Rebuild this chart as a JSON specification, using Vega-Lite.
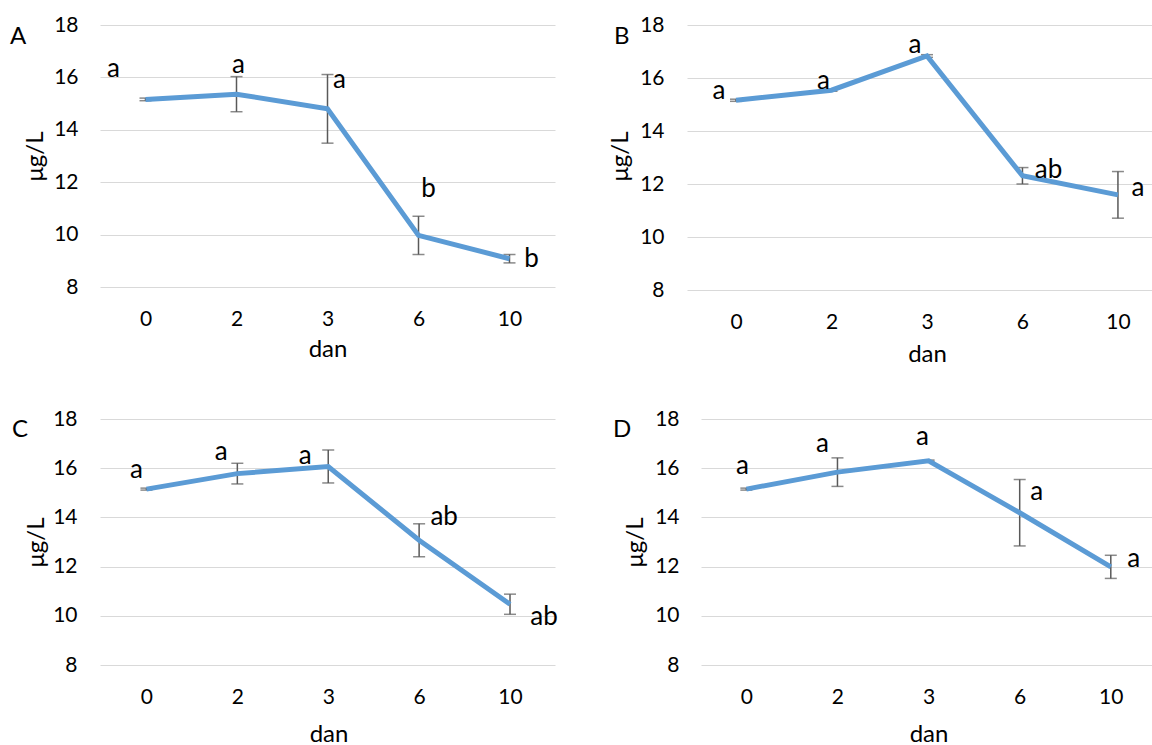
{
  "$schema": "https://vega.github.io/schema/vega-lite/v6.json",
  "background": "white",
  "padding": {"left": 10, "top": 14, "right": 0, "bottom": 0},
  "config": {
    "view": {"stroke": null},
    "font": "Lato",
    "axis": {"labelFont": "Lato", "titleFont": "Lato", "labelColor": "#000000", "titleColor": "#000000", "titleFontWeight": "normal", "domain": false, "ticks": false, "tickSize": 0}
  },
  "datasets": {
    "d": [
      {"panel": "A", "dan": "0", "mean": 15.16, "sd": 0.05, "sig": "a"},
      {"panel": "A", "dan": "2", "mean": 15.36, "sd": 0.67, "sig": "a"},
      {"panel": "A", "dan": "3", "mean": 14.8, "sd": 1.31, "sig": "a"},
      {"panel": "A", "dan": "6", "mean": 9.97, "sd": 0.73, "sig": "b"},
      {"panel": "A", "dan": "10", "mean": 9.08, "sd": 0.16, "sig": "b"},
      {"panel": "B", "dan": "0", "mean": 15.16, "sd": 0.04, "sig": "a"},
      {"panel": "B", "dan": "2", "mean": 15.54, "sd": 0.04, "sig": "a"},
      {"panel": "B", "dan": "3", "mean": 16.83, "sd": 0.05, "sig": "a"},
      {"panel": "B", "dan": "6", "mean": 12.31, "sd": 0.31, "sig": "ab"},
      {"panel": "B", "dan": "10", "mean": 11.59, "sd": 0.88, "sig": "a"},
      {"panel": "C", "dan": "0", "mean": 15.15, "sd": 0.04, "sig": "a"},
      {"panel": "C", "dan": "2", "mean": 15.78, "sd": 0.42, "sig": "a"},
      {"panel": "C", "dan": "3", "mean": 16.07, "sd": 0.67, "sig": "a"},
      {"panel": "C", "dan": "6", "mean": 13.07, "sd": 0.67, "sig": "ab"},
      {"panel": "C", "dan": "10", "mean": 10.47, "sd": 0.41, "sig": "ab"},
      {"panel": "D", "dan": "0", "mean": 15.15, "sd": 0.04, "sig": "a"},
      {"panel": "D", "dan": "2", "mean": 15.84, "sd": 0.58, "sig": "a"},
      {"panel": "D", "dan": "3", "mean": 16.3, "sd": 0.03, "sig": "a"},
      {"panel": "D", "dan": "6", "mean": 14.19, "sd": 1.35, "sig": "a"},
      {"panel": "D", "dan": "10", "mean": 11.99, "sd": 0.47, "sig": "a"}
    ]
  },
  "bounds": "flush",
  "spacing": 394,
  "vconcat": [
    {
      "bounds": "flush",
      "spacing": 132,
      "hconcat": [
        {
          "width": 455, "height": 262,
          "data": {"name": "d"},
          "transform": [{"filter": "datum.panel == 'A'"}],
          "title": {"text": "A", "anchor": "start", "frame": "group", "align": "left", "baseline": "middle", "offset": 0, "dx": -90, "dy": 47, "fontSize": 24, "font": "Lato", "fontWeight": "normal", "color": "#000000"},
          "encoding": {
            "x": {"field": "dan", "type": "ordinal", "sort": ["0", "2", "3", "6", "10"], "scale": {"type": "point", "padding": 0.5, "align": 0.5},
                  "axis": {"title": "dan", "labelAngle": 0, "labelFontSize": 21, "labelBaseline": "middle", "labelPadding": 32, "grid": false, "titleFontSize": 24, "titleX": 227.5, "titleY": 62, "titleBaseline": "middle"}},
            "y": {"field": "mean", "type": "quantitative", "scale": {"domain": [8, 18], "nice": false, "zero": false},
                  "axis": {"title": "μg/L", "values": [8, 10, 12, 14, 16, 18], "labelFontSize": 21, "labelPadding": 22, "grid": true, "gridColor": "#d9d9d9", "gridWidth": 1.2, "titleFontSize": 24, "titleX": -65, "titleY": 131, "titleBaseline": "middle"}}
          },
          "layer": [
            {"mark": {"type": "errorbar", "color": "#595959", "thickness": 1.5, "ticks": {"size": 12, "thickness": 1.5, "color": "#595959"}}, "encoding": {"yError": {"field": "sd"}}},
            {"mark": {"type": "line", "color": "#5B9BD5", "strokeWidth": 5, "strokeCap": "butt", "strokeJoin": "miter"}, "encoding": {}},
            {"mark": {"type": "text", "font": "Lato", "fontSize": 26, "color": "#000000", "align": "center", "baseline": "middle",
                      "dx": {"expr": "datum.dan=='0'?-32:datum.dan=='2'?2:datum.dan=='3'?12:datum.dan=='6'?10:22"},
                      "dy": {"expr": "datum.dan=='0'?-30:datum.dan=='2'?-29:datum.dan=='3'?-29:datum.dan=='6'?-46:0"}},
             "encoding": {"text": {"field": "sig"}}}
          ]
        },
        {
          "width": 465, "height": 265,
          "data": {"name": "d"},
          "transform": [{"filter": "datum.panel == 'B'"}],
          "title": {"text": "B", "anchor": "start", "frame": "group", "align": "left", "baseline": "middle", "offset": 0, "dx": -73, "dy": 47, "fontSize": 24, "font": "Lato", "fontWeight": "normal", "color": "#000000"},
          "encoding": {
            "x": {"field": "dan", "type": "ordinal", "sort": ["0", "2", "3", "6", "10"], "scale": {"type": "point", "padding": 0.435, "align": 0.59},
                  "axis": {"title": "dan", "labelAngle": 0, "labelFontSize": 21, "labelBaseline": "middle", "labelPadding": 32, "grid": false, "titleFontSize": 24, "titleX": 240, "titleY": 64, "titleBaseline": "middle"}},
            "y": {"field": "mean", "type": "quantitative", "scale": {"domain": [8, 18], "nice": false, "zero": false},
                  "axis": {"title": "μg/L", "values": [8, 10, 12, 14, 16, 18], "labelFontSize": 21, "labelPadding": 23, "grid": true, "gridColor": "#d9d9d9", "gridWidth": 1.2, "titleFontSize": 24, "titleX": -67, "titleY": 131, "titleBaseline": "middle"}}
          },
          "layer": [
            {"mark": {"type": "errorbar", "color": "#595959", "thickness": 1.5, "ticks": {"size": 12, "thickness": 1.5, "color": "#595959"}}, "encoding": {"yError": {"field": "sd"}}},
            {"mark": {"type": "line", "color": "#5B9BD5", "strokeWidth": 5, "strokeCap": "butt", "strokeJoin": "miter"}, "encoding": {}},
            {"mark": {"type": "text", "font": "Lato", "fontSize": 26, "color": "#000000", "align": "center", "baseline": "middle",
                      "dx": {"expr": "datum.dan=='0'?-17:datum.dan=='2'?-8:datum.dan=='3'?-12:datum.dan=='6'?26:20"},
                      "dy": {"expr": "datum.dan=='0'?-9:datum.dan=='2'?-9:datum.dan=='3'?-11:datum.dan=='6'?-6:-7"}},
             "encoding": {"text": {"field": "sig"}}}
          ]
        }
      ]
    },
    {
      "bounds": "flush",
      "spacing": 146,
      "hconcat": [
        {
          "width": 455, "height": 246,
          "data": {"name": "d"},
          "transform": [{"filter": "datum.panel == 'C'"}],
          "title": {"text": "C", "anchor": "start", "frame": "group", "align": "left", "baseline": "middle", "offset": 0, "dx": -88, "dy": 46, "fontSize": 24, "font": "Lato", "fontWeight": "normal", "color": "#000000"},
          "encoding": {
            "x": {"field": "dan", "type": "ordinal", "sort": ["0", "2", "3", "6", "10"], "scale": {"type": "point", "padding": 0.503, "align": 0.508},
                  "axis": {"title": "dan", "labelAngle": 0, "labelFontSize": 21, "labelBaseline": "middle", "labelPadding": 32, "grid": false, "titleFontSize": 24, "titleX": 228.5, "titleY": 69, "titleBaseline": "middle"}},
            "y": {"field": "mean", "type": "quantitative", "scale": {"domain": [8, 18], "nice": false, "zero": false},
                  "axis": {"title": "μg/L", "values": [8, 10, 12, 14, 16, 18], "labelFontSize": 21, "labelPadding": 23, "grid": true, "gridColor": "#d9d9d9", "gridWidth": 1.2, "titleFontSize": 24, "titleX": -64, "titleY": 123, "titleBaseline": "middle"}}
          },
          "layer": [
            {"mark": {"type": "errorbar", "color": "#595959", "thickness": 1.5, "ticks": {"size": 12, "thickness": 1.5, "color": "#595959"}}, "encoding": {"yError": {"field": "sd"}}},
            {"mark": {"type": "line", "color": "#5B9BD5", "strokeWidth": 5, "strokeCap": "butt", "strokeJoin": "miter"}, "encoding": {}},
            {"mark": {"type": "text", "font": "Lato", "fontSize": 26, "color": "#000000", "align": "center", "baseline": "middle",
                      "dx": {"expr": "datum.dan=='0'?-10:datum.dan=='2'?-16:datum.dan=='3'?-23:datum.dan=='6'?25:34"},
                      "dy": {"expr": "datum.dan=='0'?-19:datum.dan=='2'?-22:datum.dan=='3'?-10:datum.dan=='6'?-23:13"}},
             "encoding": {"text": {"field": "sig"}}}
          ]
        },
        {
          "width": 451, "height": 246,
          "data": {"name": "d"},
          "transform": [{"filter": "datum.panel == 'D'"}],
          "title": {"text": "D", "anchor": "start", "frame": "group", "align": "left", "baseline": "middle", "offset": 0, "dx": -88, "dy": 46, "fontSize": 24, "font": "Lato", "fontWeight": "normal", "color": "#000000"},
          "encoding": {
            "x": {"field": "dan", "type": "ordinal", "sort": ["0", "2", "3", "6", "10"], "scale": {"type": "point", "padding": 0.475, "align": 0.524},
                  "axis": {"title": "dan", "labelAngle": 0, "labelFontSize": 21, "labelBaseline": "middle", "labelPadding": 32, "grid": false, "titleFontSize": 24, "titleX": 227.5, "titleY": 69, "titleBaseline": "middle"}},
            "y": {"field": "mean", "type": "quantitative", "scale": {"domain": [8, 18], "nice": false, "zero": false},
                  "axis": {"title": "μg/L", "values": [8, 10, 12, 14, 16, 18], "labelFontSize": 21, "labelPadding": 22, "grid": true, "gridColor": "#d9d9d9", "gridWidth": 1.2, "titleFontSize": 24, "titleX": -66, "titleY": 123, "titleBaseline": "middle"}}
          },
          "layer": [
            {"mark": {"type": "errorbar", "color": "#595959", "thickness": 1.5, "ticks": {"size": 12, "thickness": 1.5, "color": "#595959"}}, "encoding": {"yError": {"field": "sd"}}},
            {"mark": {"type": "line", "color": "#5B9BD5", "strokeWidth": 5, "strokeCap": "butt", "strokeJoin": "miter"}, "encoding": {}},
            {"mark": {"type": "text", "font": "Lato", "fontSize": 26, "color": "#000000", "align": "center", "baseline": "middle",
                      "dx": {"expr": "datum.dan=='0'?-4:datum.dan=='2'?-15:datum.dan=='3'?-6:datum.dan=='6'?17:23"},
                      "dy": {"expr": "datum.dan=='0'?-23:datum.dan=='2'?-28:datum.dan=='3'?-24:datum.dan=='6'?-21:-8"}},
             "encoding": {"text": {"field": "sig"}}}
          ]
        }
      ]
    }
  ]
}
